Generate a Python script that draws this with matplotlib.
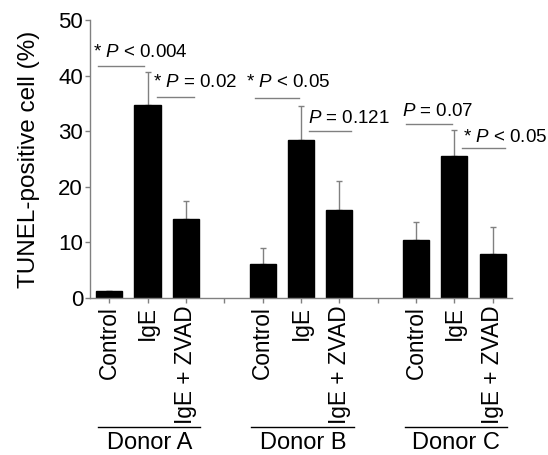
import matplotlib
matplotlib.use('Agg')
import matplotlib.pyplot as plt
import matplotlib.transforms as mtransforms
import numpy as np

plt.rcParams['font.family'] = ['Liberation Sans', 'DejaVu Sans']
plt.rcParams['mathtext.fontset'] = 'custom'
plt.rcParams['mathtext.rm'] = 'Liberation Sans'
plt.rcParams['mathtext.it'] = 'Liberation Sans:italic'

# data
donors = ['Donor A', 'Donor B', 'Donor C']
treatments = ['Control', 'IgE', 'IgE + ZVAD']
means = [1.2, 34.8, 14.3,
         6.05, 28.4, 15.9,
         10.4, 25.5, 7.9]
errs = [0.0, 5.8, 3.1,
        2.9, 6.1, 5.1,
        3.2, 4.7, 4.9]

# p-value annotations: text, text x, text y, line x0, line x1, line y
p_texts = ['* $P$ < 0.004', '* $P$ = 0.02', '* $P$ < 0.05',
           '$P$ = 0.121', '$P$ = 0.07', '* $P$ < 0.05']
p_tx = [-0.42, 1.14, 3.56, 5.17, 7.64, 9.22]
p_ty = [44.2, 38.8, 38.7, 32.2, 33.5, 28.8]
p_lx0 = [-0.29, 1.25, 3.79, 5.22, 7.74, 9.19]
p_lx1 = [0.91, 2.21, 4.94, 6.31, 8.94, 10.31]
p_ly = [41.8, 36.2, 36.0, 30.0, 31.3, 26.9]

xpos = np.array([0, 1, 2, 4, 5, 6, 8, 9, 10])
labels = treatments * 3
grey = '#808080'

fig = plt.figure(figsize=(5.48, 4.55), dpi=100)
ax = fig.add_axes([0.1642, 0.345, 0.7701, 0.611])

ax.errorbar(xpos, means, yerr=[np.zeros(len(errs)), errs], fmt='none',
            ecolor=grey, elinewidth=1, capsize=2.5, capthick=1, zorder=1)
ax.bar(xpos, means, width=0.68, color='black', edgecolor='black', zorder=2)

ax.set_xlim(-0.5, 10.5)
ax.set_ylim(0, 50)
ax.set_yticks([0, 10, 20, 30, 40, 50])
ax.set_xticks(xpos)
ax.set_xticklabels(labels, rotation=90, fontsize=16.3, va='top', ha='center')
ax.set_xticks([3, 7], minor=True)
ax.tick_params(axis='y', labelsize=16, direction='out', length=3.5, color=grey, width=1, pad=1.5)
ax.tick_params(axis='x', which='both', direction='out', length=3.5, color=grey, width=1, pad=2)
ax.set_ylabel('TUNEL-positive cell (%)', fontsize=17.5, labelpad=13)

for s in ['top', 'right']:
    ax.spines[s].set_visible(False)
for s in ['left', 'bottom']:
    ax.spines[s].set_color(grey)
    ax.spines[s].set_linewidth(1)

for i in range(len(p_texts)):
    ax.plot([p_lx0[i], p_lx1[i]], [p_ly[i], p_ly[i]], color=grey, lw=1, clip_on=False)
    ax.text(p_tx[i], p_ty[i], p_texts[i], fontsize=13.5, ha='left', va='center', clip_on=False)

# donor group labels below the axis
trans = mtransforms.blended_transform_factory(ax.transData, ax.transAxes)
for i in range(len(donors)):
    c = xpos[i * 3 + 1]
    ax.plot([c - 1.29, c + 1.38], [-0.464, -0.464], color='black', lw=1,
            transform=trans, clip_on=False)
    ax.text(c + 0.05, -0.52, donors[i], fontsize=17, ha='center', va='center',
            transform=trans)

fig.savefig('out.png', dpi=100)
